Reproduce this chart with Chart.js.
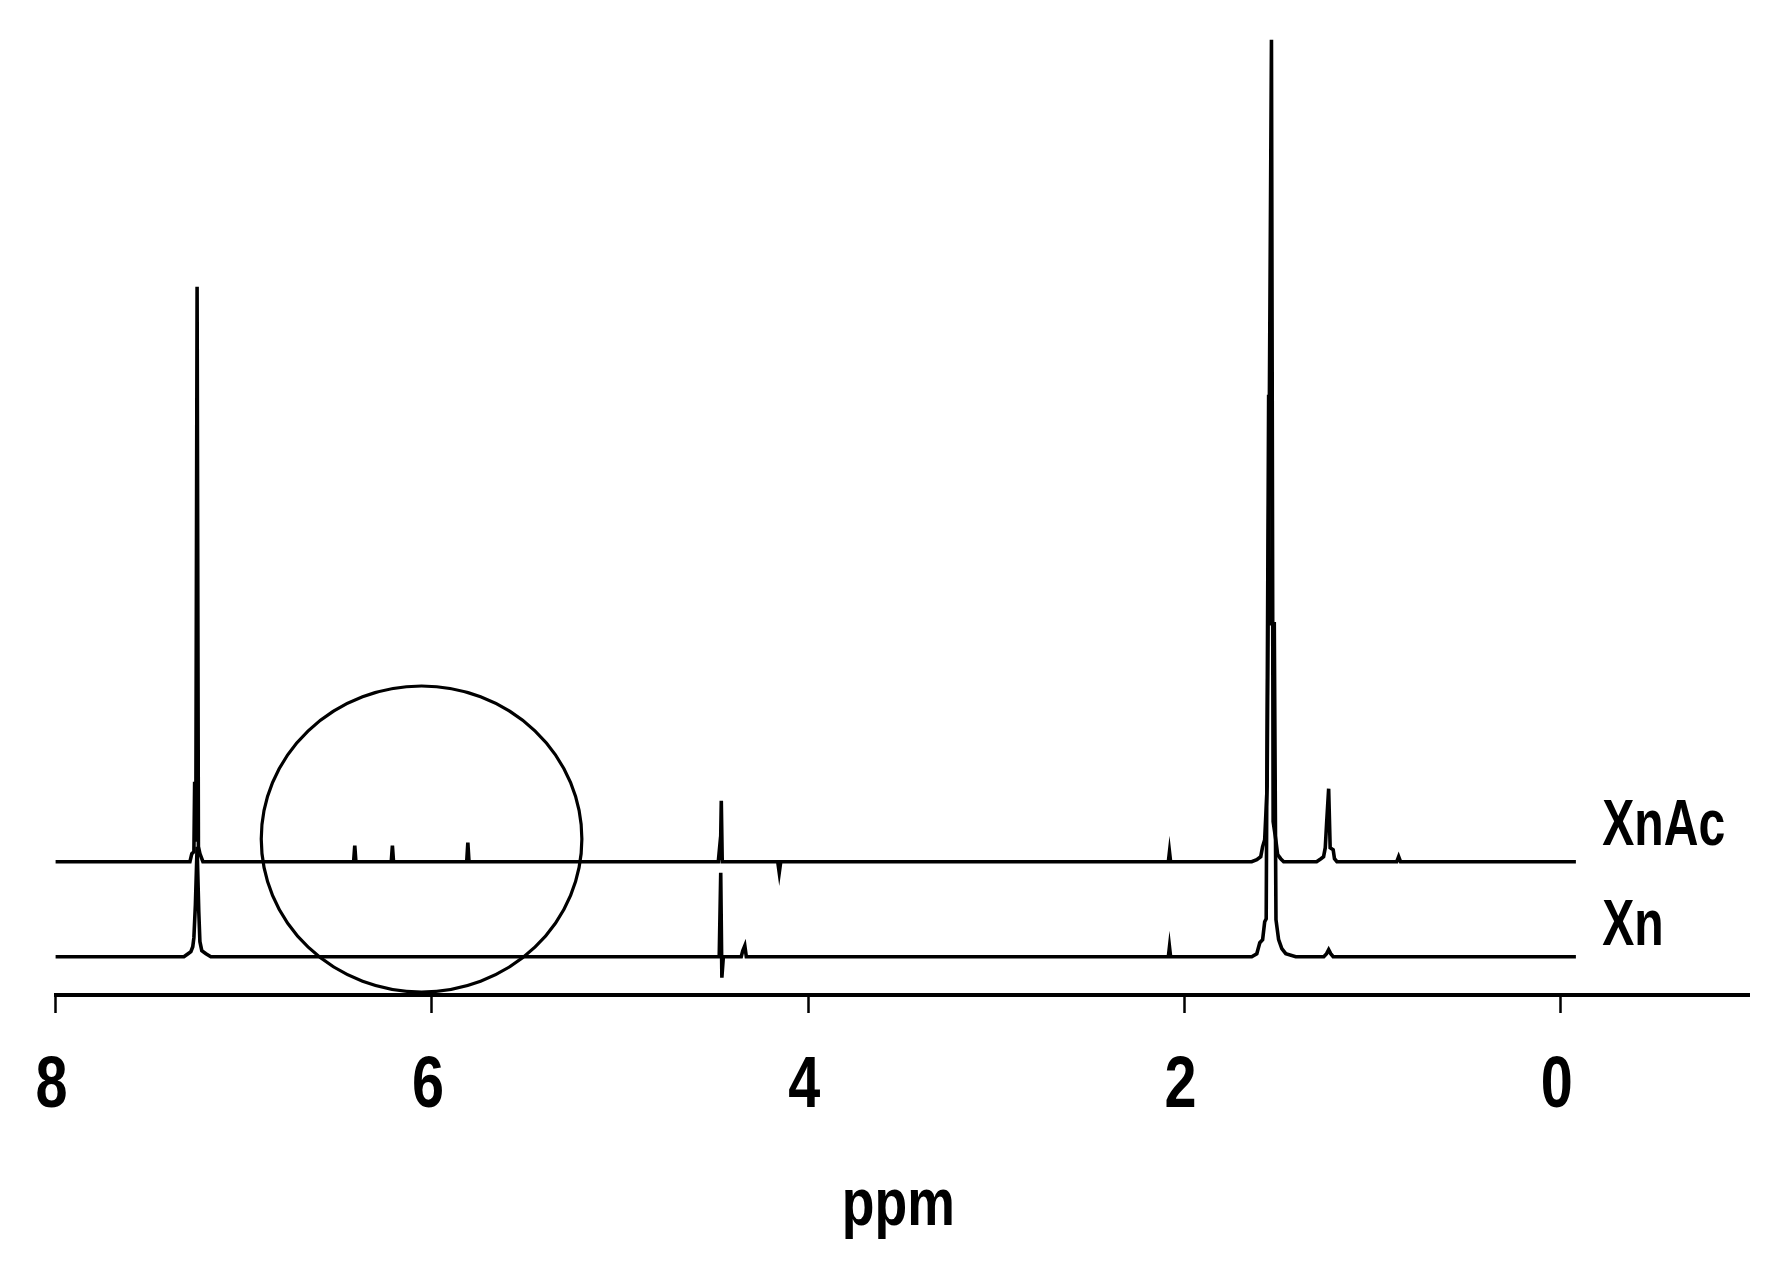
<!DOCTYPE html>
<html>
<head>
<meta charset="utf-8">
<title>1H NMR - Xn / XnAc</title>
<script src="https://cdn.jsdelivr.net/npm/chart.js@4.4.0/dist/chart.umd.min.js"></script>
<style>
  html, body { margin: 0; padding: 0; background: #fff; }
  #wrap { width: 1779px; height: 1274px; }
</style>
</head>
<body>
<div id="wrap"><canvas id="nmr" width="1779" height="1274"></canvas></div>
<script>
// Spectra: chemical shift (ppm) and intensity above each trace's own baseline
const xnAcShift = [8.01, 7.286, 7.276, 7.265, 7.261, 7.255, 7.248, 7.241, 7.233, 7.217,
    6.416, 6.410, 6.404, 6.216, 6.210, 6.204, 5.815, 5.809, 5.803,
    4.478, 4.473, 4.467, 4.462, 4.457, 4.162, 4.154, 4.146,
    2.086, 2.080, 2.074,
    1.643, 1.616, 1.595, 1.585, 1.574, 1.561, 1.538, 1.529, 1.515, 1.505, 1.489, 1.473,
    1.298, 1.275, 1.261, 1.252, 1.245, 1.234, 1.226, 1.210, 1.203, 1.190,
    0.872, 0.862, 0.852, -0.08];
const xnAcIntensity = [0, 0, 8, 10, 80, 20, 575, 15, 8, 0,
    0, 16, 0, 0, 16, 0, 0, 19, 0,
    0, 10, 2, 61, 0, 0, -11, 0,
    0, 10, 0,
    0, 2, 5, 15, 22, 75, 822, 40, 22, 7, 3, 0,
    0, 3, 5, 14, 38, 73, 14, 12, 3, 0,
    0, 5, 0, 0];

const xnShift = [8.01, 7.318, 7.296, 7.281, 7.271, 7.265, 7.257, 7.248, 7.239, 7.233, 7.223, 7.201, 7.175,
    4.473, 4.465, 4.459, 4.451, 4.356, 4.348, 4.337, 4.329,
    2.086, 2.080, 2.074,
    1.643, 1.616, 1.600, 1.585, 1.574, 1.566, 1.553, 1.549, 1.523, 1.514, 1.500, 1.483, 1.462, 1.409,
    1.260, 1.245, 1.234, 1.223, 1.210, -0.08];
const xnIntensity = [0, 0, 3, 5, 10, 19, 52, 110, 45, 15, 6, 3, 0,
    0, 84, -21, 0, 0, 6, 11, 0,
    0, 10, 0,
    0, 3, 14, 17, 35, 38, 562, 333, 333, 37, 17, 8, 3, 0,
    0, 3, 7, 3, 0, 0];

const seriesLabels = ['XnAc', 'Xn'];
const stackOffsets = [133.3, 38.3];   // vertical offset of each stacked trace
const tickValues = [8, 6, 4, 2, 0];
const axisTitle = 'ppm';

// label anchors and the highlight circle, in data units
const labelAnchors = [{ ppm: -0.22, value: 150 }, { ppm: -0.22, value: 50 }];
const circle = { ppm: 6.055, value: 156, ppmRadius: 0.852, valueRadius: 153 };

// the original lettering is a tall narrow face, so squeeze it horizontally
const textFamily = '"Liberation Sans", Arial, sans-serif';

function toPoints(shift, intensity, offset) {
    return shift.map((ppm, i) => ({ x: ppm, y: intensity[i] + offset }));
}

function narrowText(ctx, text, x, y, font, align, squeeze) {
    ctx.save();
    ctx.font = font;
    ctx.fillStyle = '#000';
    ctx.textAlign = align;
    ctx.textBaseline = 'alphabetic';
    ctx.translate(x, y);
    ctx.scale(squeeze, 1);
    ctx.fillText(text, 0, 0);
    ctx.restore();
}

const annotations = {
    id: 'annotations',
    afterDraw(chart) {
        const { ctx, scales: { x, y } } = chart;

        // circle round the vinyl region
        const cx = x.getPixelForValue(circle.ppm);
        const cy = y.getPixelForValue(circle.value);
        const rx = Math.abs(x.getPixelForValue(circle.ppm + circle.ppmRadius) - cx);
        const ry = Math.abs(y.getPixelForValue(circle.value + circle.valueRadius) - cy);
        ctx.save();
        ctx.beginPath();
        ctx.ellipse(cx, cy, rx, ry, 0, 0, Math.PI * 2);
        ctx.lineWidth = 3.2;
        ctx.strokeStyle = '#000';
        ctx.stroke();
        ctx.restore();

        // trace names
        seriesLabels.forEach((label, i) => {
            narrowText(ctx, label, x.getPixelForValue(labelAnchors[i].ppm),
                y.getPixelForValue(labelAnchors[i].value), 'bold 65px ' + textFamily, 'left', 0.74);
        });

        // tick labels and axis title
        x.ticks.forEach(t => {
            narrowText(ctx, String(t.value), x.getPixelForValue(t.value) - 4, x.top + 112,
                'bold 72px ' + textFamily, 'center', 0.8);
        });
        narrowText(ctx, axisTitle, (x.left + x.right) / 2 - 4, x.bottom - 49,
            'bold 67px ' + textFamily, 'center', 0.8);
    }
};

new Chart(document.getElementById('nmr'), {
    type: 'line',
    data: {
        datasets: [
            {
                label: seriesLabels[0],
                data: toPoints(xnAcShift, xnAcIntensity, stackOffsets[0]),
                borderColor: '#000',
                borderWidth: 3.6,
                pointRadius: 0,
                tension: 0,
                fill: false
            },
            {
                label: seriesLabels[1],
                data: toPoints(xnShift, xnIntensity, stackOffsets[1]),
                borderColor: '#000',
                borderWidth: 3.6,
                pointRadius: 0,
                tension: 0,
                fill: false
            }
        ]
    },
    options: {
        responsive: false,
        animation: false,
        devicePixelRatio: 1,
        layout: {
            padding: { left: 55.6, right: 30, top: 20, bottom: 0 }
        },
        plugins: {
            legend: { display: false },
            tooltip: { enabled: false }
        },
        scales: {
            x: {
                type: 'linear',
                min: -1,
                max: 8,
                reverse: true,
                afterBuildTicks: scale => {
                    scale.ticks = tickValues.map(v => ({ value: v }));
                },
                afterFit: scale => {
                    scale.height = 279;
                },
                border: { display: true, color: '#000', width: 4 },
                grid: {
                    display: true,
                    drawOnChartArea: false,
                    drawTicks: true,
                    tickLength: 18,
                    tickWidth: 2.5,
                    tickColor: '#000'
                },
                ticks: { display: false },
                title: { display: false, text: axisTitle }
            },
            y: {
                display: false,
                min: 0,
                max: 975
            }
        }
    },
    plugins: [annotations]
});
</script>
</body>
</html>
